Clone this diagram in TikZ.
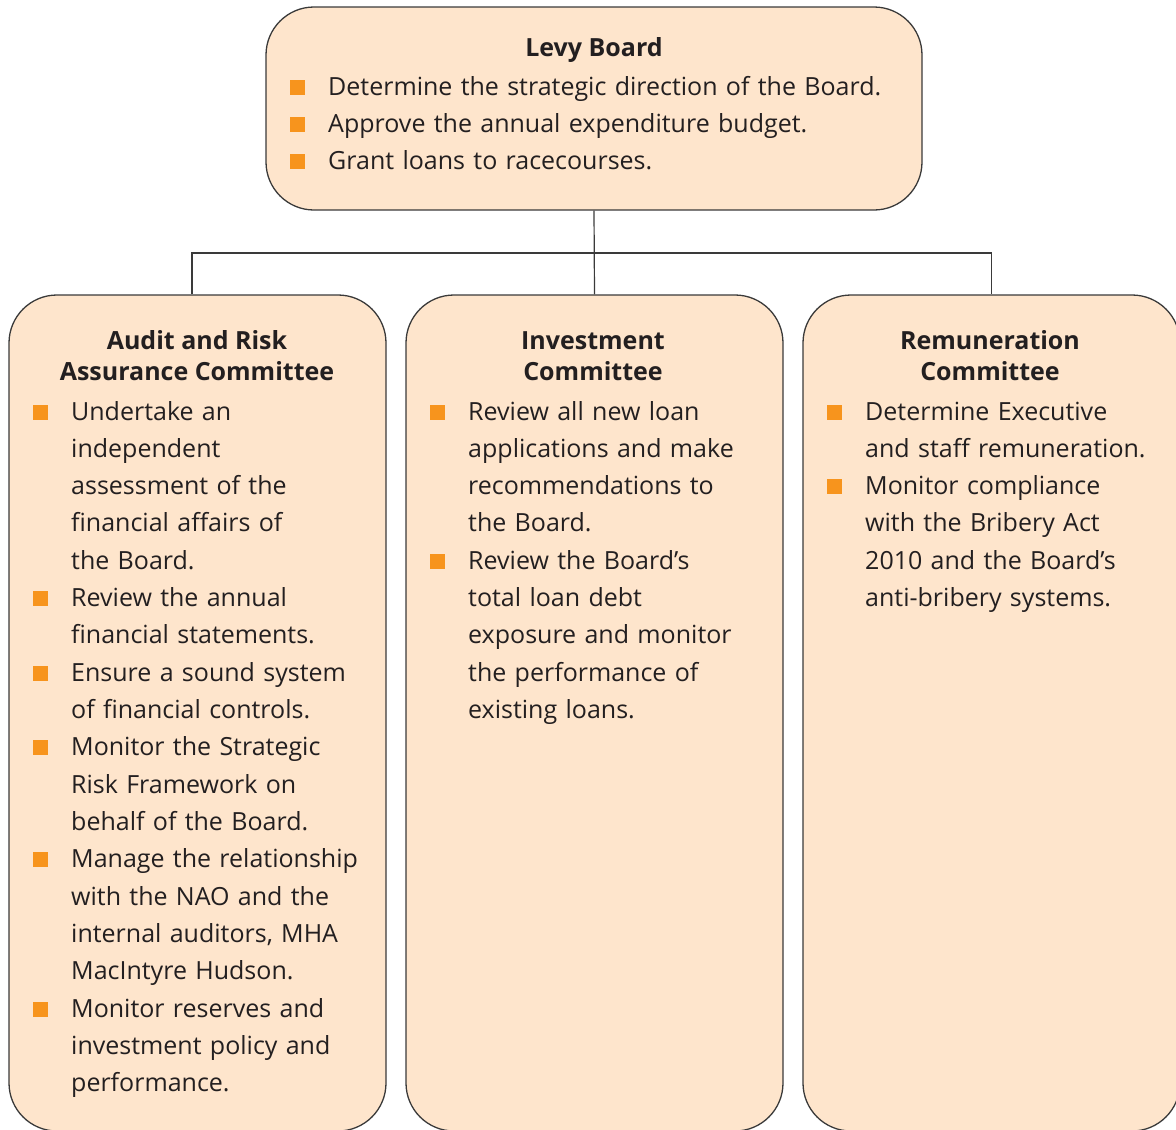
\documentclass[tikz,border=0pt]{standalone}
\usepackage{fontspec}
\setmainfont{Open Sans}
\usetikzlibrary{positioning}

\definecolor{boxfill}{HTML}{FEE5CC}
\definecolor{boxline}{HTML}{3A3A3A}
\definecolor{bulorange}{HTML}{F7941D}
\definecolor{inktext}{HTML}{231F20}

% one bullet item, later lines hang under the text
\newcommand{\itm}[1]{\noindent\hangindent=38pt\hangafter=1%
  \makebox[38pt][l]{\textcolor{bulorange}{\rule[0.5pt]{15pt}{15pt}}}#1\par}

\tikzset{
  board/.style={draw=boxline, fill=boxfill, line width=1.3pt, rounded corners=48pt},
  title/.style={font=\fontsize{25}{31.5}\selectfont\bfseries, text=inktext, align=center, anchor=base, inner sep=0pt},
  duties/.style={font=\fontsize{25}{37.33}\selectfont, text=inktext, align=left, anchor=base west, inner sep=0pt},
  conn/.style={draw=boxline, line width=1.2pt},
}

\begin{document}
\begin{tikzpicture}[x=1pt, y=-1pt]
  \useasboundingbox (0,0) rectangle (1176,1130);
  \clip (0,0) rectangle (1176,1130);

  % boxes
  \node[board, minimum width=656pt, minimum height=203pt] (levy) at (594,108.5) {};
  \node[board, minimum width=377pt, minimum height=836pt] (audit) at (197.5,713) {};
  \node[board, minimum width=377pt, minimum height=836pt] (invest) at (594.5,713) {};
  \node[board, minimum width=377pt, minimum height=836pt] (remun) at (991.5,713) {};

  % connectors
  \coordinate (bus) at (594.5,253);
  \draw[conn] (levy.south) -- (invest.north);
  \draw[conn] ([xshift=-5.5pt]audit.north) |- (bus) -| (remun.north);

  % titles (base sits on the last line)
  \node[title] (levyT) at (594,56.5) {Levy Board};
  \node[title] (auditT) at (197,380.5) {Audit and Risk\\Assurance Committee};
  \node[title] (investT) at (593,380.5) {Investment\\Committee};
  \node[title] (remunT) at (990,380.5) {Remuneration\\Committee};

  % duties
  \node[duties, text width=620pt] (levyD) at (290,95) {%
    \itm{Determine the strategic direction of the Board.}
    \itm{Approve the annual expenditure budget.}
    \itm{Grant loans to racecourses.}};
  \node[duties, text width=345pt] (auditD) at (33,420) {%
    \itm{Undertake an\newline independent\newline assessment of the\newline financial affairs of\newline the Board.}
    \itm{Review the annual\newline financial statements.}
    \itm{Ensure a sound system\newline of financial controls.}
    \itm{Monitor the Strategic\newline Risk Framework on\newline behalf of the Board.}
    \itm{Manage the relationship\newline with the NAO and the\newline internal auditors, MHA\newline MacIntyre Hudson.}
    \itm{Monitor reserves and\newline investment policy and\newline performance.}};
  \node[duties, text width=345pt] (investD) at (430,420) {%
    \itm{Review all new loan\newline applications and make\newline recommendations to\newline the Board.}
    \itm{Review the Board’s\newline total loan debt\newline exposure and monitor\newline the performance of\newline existing loans.}};
  \node[duties, text width=345pt] (remunD) at (827,420) {%
    \itm{Determine Executive\newline and staff remuneration.}
    \itm{Monitor compliance\newline with the Bribery Act\newline 2010 and the Board’s\newline anti-bribery systems.}};
\end{tikzpicture}
\end{document}
